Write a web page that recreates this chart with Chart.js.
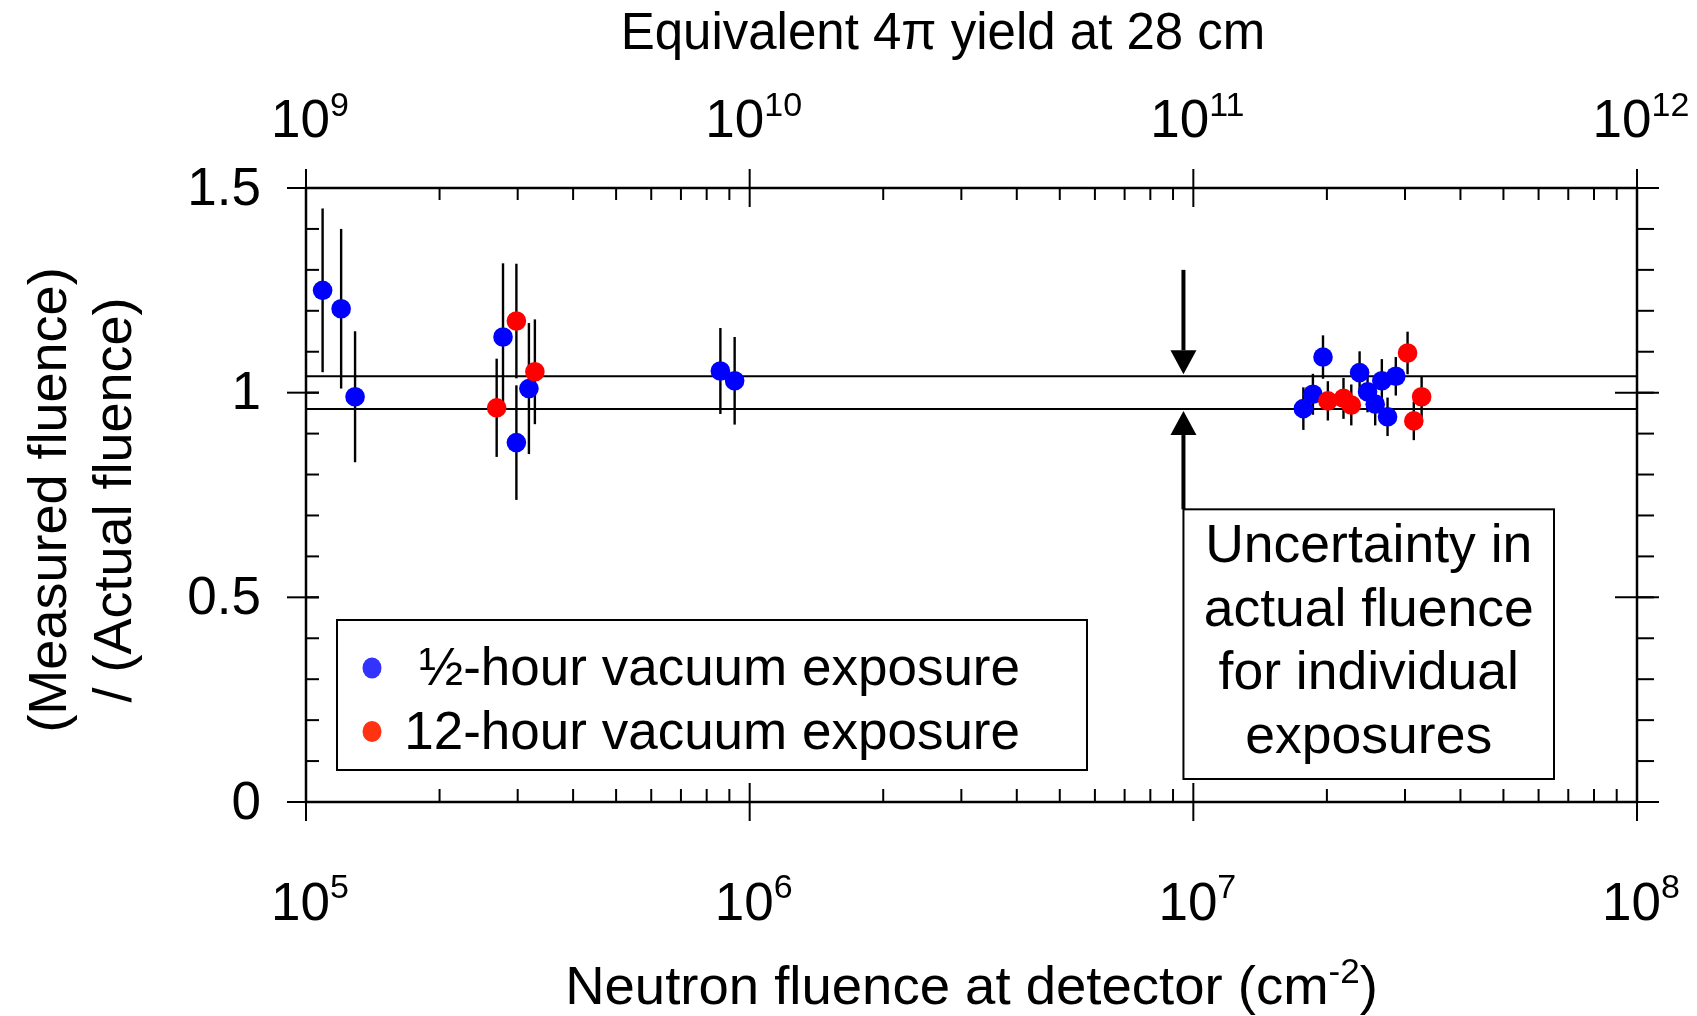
<!DOCTYPE html>
<html>
<head>
<meta charset="utf-8">
<title>Measured / actual fluence</title>
<script src="https://cdn.jsdelivr.net/npm/chart.js@4.4.1/dist/chart.umd.min.js"></script>
<style>
  html, body { margin: 0; padding: 0; background: #fff; }
  canvas { display: block; }
</style>
</head>
<body>
<canvas id="fluenceChart" width="1697" height="1016"></canvas>
<script>
// 1/2-hour vacuum exposures
const halfHourFluence = [1.09e5, 1.20e5, 1.29e5, 2.78e5, 2.98e5, 3.18e5, 8.59e5, 9.25e5,
                         1.77e7, 1.86e7, 1.96e7, 2.37e7, 2.47e7, 2.57e7, 2.66e7, 2.74e7, 2.86e7];
const halfHourRatio   = [1.25, 1.205, 0.99, 1.136, 0.878, 1.01, 1.053, 1.029,
                         0.961, 0.996, 1.087, 1.049, 1.002, 0.972, 1.029, 0.941, 1.040];
const halfHourErr     = [0.20, 0.195, 0.16, 0.18, 0.14, 0.16, 0.105, 0.107,
                         0.052, 0.05, 0.053, 0.052, 0.05, 0.052, 0.053, 0.047, 0.047];

// 12-hour vacuum exposures
const twelveHourFluence = [2.69e5, 2.98e5, 3.28e5, 2.01e7, 2.18e7, 2.27e7, 3.04e7, 3.14e7, 3.27e7];
const twelveHourRatio   = [0.963, 1.175, 1.051, 0.980, 0.986, 0.970, 1.097, 0.931, 0.990];
const twelveHourErr     = [0.12, 0.14, 0.128, 0.048, 0.05, 0.05, 0.052, 0.047, 0.05];

// uncertainty band in the actual fluence
const bandLimits = [1.04, 0.96];

// axis ticks
const yMajorTicks = [0, 0.5, 1, 1.5];
const yTickLabels = ['0', '0.5', '1', '1.5'];
const bottomDecades = [1e5, 1e6, 1e7, 1e8];
const bottomExps = ['5', '6', '7', '8'];
const topDecades = [1e9, 1e10, 1e11, 1e12];
const topExps = ['9', '10', '11', '12'];

// arrows pointing at the band
const arrowFluence = 9.5e6;
const arrowTails = [1.30, 0.715];

const FONT = 'Arial, "Liberation Sans", Helvetica, sans-serif';

function toPoints(xs, ys) {
    return xs.map((x, i) => ({ x: x, y: ys[i] }));
}

function drawPower(ctx, x, baseline, base, exp, size, supSize, raise) {
    ctx.font = size + 'px ' + FONT;
    const wb = ctx.measureText(base).width;
    ctx.font = supSize + 'px ' + FONT;
    const we = ctx.measureText(exp).width;
    const left = x - (wb + we) / 2 + 4;
    ctx.textAlign = 'left';
    ctx.textBaseline = 'alphabetic';
    ctx.font = size + 'px ' + FONT;
    ctx.fillText(base, left, baseline);
    ctx.font = supSize + 'px ' + FONT;
    ctx.fillText(exp, left + wb, baseline - raise);
}

function line(ctx, x1, y1, x2, y2) {
    ctx.beginPath();
    ctx.moveTo(x1, y1);
    ctx.lineTo(x2, y2);
    ctx.stroke();
}

function logMinors(min, max) {
    const out = [];
    for (let d = min; d < max; d *= 10) {
        for (let m = 2; m <= 9; m++) out.push(d * m);
    }
    return out;
}

// error bars go behind the markers
const errorBarPlugin = {
    id: 'errorBars',
    beforeDatasetsDraw(chart) {
        const ctx = chart.ctx;
        const xs = chart.scales.x, ys = chart.scales.y;
        ctx.save();
        ctx.strokeStyle = '#000';
        ctx.lineWidth = 2.4;
        chart.data.datasets.forEach(ds => {
            if (!ds.errors) return;
            ds.data.forEach((p, i) => {
                const px = xs.getPixelForValue(p.x);
                line(ctx, px, ys.getPixelForValue(p.y + ds.errors[i]), px, ys.getPixelForValue(p.y - ds.errors[i]));
            });
        });
        ctx.restore();
    }
};

// frame, ticks, labels, arrows, annotation and legend
const framePlugin = {
    id: 'frame',
    afterDraw(chart) {
        const ctx = chart.ctx;
        const area = chart.chartArea;
        const xs = chart.scales.x, xt = chart.scales.x2, ys = chart.scales.y;
        const L = area.left, R = area.right, T = area.top, B = area.bottom;
        ctx.save();
        ctx.strokeStyle = '#000';
        ctx.fillStyle = '#000';

        ctx.lineWidth = 2.5;
        ctx.strokeRect(L, T, R - L, B - T);

        ctx.lineWidth = 2;
        // y minor ticks every 0.1, pointing right on both sides
        for (let k = 0; k <= 15; k++) {
            const py = ys.getPixelForValue(k / 10);
            line(ctx, L, py, L + 13, py);
            line(ctx, R, py, R + 17, py);
        }
        yMajorTicks.forEach(v => {
            const py = ys.getPixelForValue(v);
            line(ctx, L - 19, py, L + 13, py);
            line(ctx, R - 22, py, R + 22, py);
        });
        // x minor ticks, inward
        logMinors(1e5, 1e8).forEach(v => {
            const px = xs.getPixelForValue(v);
            line(ctx, px, B, px, B - 13);
        });
        logMinors(1e9, 1e12).forEach(v => {
            const px = xt.getPixelForValue(v);
            line(ctx, px, T, px, T + 12);
        });
        bottomDecades.forEach(v => {
            const px = xs.getPixelForValue(v);
            line(ctx, px, B - 19, px, B + 19);
        });
        topDecades.forEach(v => {
            const px = xt.getPixelForValue(v);
            line(ctx, px, T - 19, px, T + 19);
        });

        // tick labels
        ctx.font = '53px ' + FONT;
        ctx.textAlign = 'right';
        ctx.textBaseline = 'middle';
        yMajorTicks.forEach((v, i) => {
            ctx.fillText(yTickLabels[i], 261, ys.getPixelForValue(v) + 2);
        });
        bottomDecades.forEach((v, i) => {
            drawPower(ctx, xs.getPixelForValue(v), 920, '10', bottomExps[i], 53, 34, 22);
        });
        topDecades.forEach((v, i) => {
            drawPower(ctx, xt.getPixelForValue(v), 137, '10', topExps[i], 53, 34, 21);
        });

        // axis titles
        ctx.font = '51px ' + FONT;
        ctx.textAlign = 'center';
        ctx.textBaseline = 'alphabetic';
        ctx.fillText('Equivalent 4\u03c0 yield at 28 cm', 943, 49);

        const tMain = 'Neutron fluence at detector (cm';
        ctx.font = '54.5px ' + FONT;
        const w1 = ctx.measureText(tMain).width;
        const w3 = ctx.measureText(')').width;
        ctx.font = '35px ' + FONT;
        const w2 = ctx.measureText('-2').width;
        let tx = (L + R) / 2 - (w1 + w2 + w3) / 2;
        ctx.textAlign = 'left';
        ctx.font = '54.5px ' + FONT;
        ctx.fillText(tMain, tx, 1004);
        ctx.font = '35px ' + FONT;
        ctx.fillText('-2', tx + w1, 983);
        ctx.font = '54.5px ' + FONT;
        ctx.fillText(')', tx + w1 + w2, 1004);

        ctx.save();
        ctx.font = '54px ' + FONT;
        ctx.textAlign = 'center';
        ctx.textBaseline = 'middle';
        ctx.translate(51, 500);
        ctx.rotate(-Math.PI / 2);
        ctx.fillText('(Measured fluence)', 0, 0);
        ctx.translate(0, 65);
        ctx.fillText('/ (Actual fluence)', 0, 0);
        ctx.restore();

        // arrows onto the band
        const ax = xs.getPixelForValue(arrowFluence);
        const drawArrow = (fromV, toV) => {
            const y0 = ys.getPixelForValue(fromV);
            const y1 = ys.getPixelForValue(toV);
            const dir = y1 > y0 ? 1 : -1;
            const headBase = y1 - dir * 26;
            ctx.lineWidth = 4;
            line(ctx, ax, y0, ax, headBase);
            ctx.beginPath();
            ctx.moveTo(ax - 13, headBase);
            ctx.lineTo(ax + 13, headBase);
            ctx.lineTo(ax, y1 - dir * 2);
            ctx.closePath();
            ctx.fill();
        };
        drawArrow(arrowTails[0], bandLimits[0]);
        drawArrow(arrowTails[1], bandLimits[1]);

        // annotation box hanging from the lower arrow
        const boxTop = ys.getPixelForValue(arrowTails[1]);
        ctx.lineWidth = 2;
        ctx.strokeRect(ax, boxTop, 1554 - ax, 779 - boxTop);
        ctx.font = '53.5px ' + FONT;
        ctx.textAlign = 'center';
        ctx.textBaseline = 'alphabetic';
        const cx = (ax + 1554) / 2;
        ['Uncertainty in', 'actual fluence', 'for individual', 'exposures'].forEach((s, i) => {
            ctx.fillText(s, cx, 562 + i * 63.5);
        });

        // legend
        ctx.strokeRect(337, 620, 750, 150);
        const legendColors = ['#3333ff', '#ff3311'];
        chart.data.datasets.filter(d => d.errors).forEach((ds, i) => {
            const ly = 668 + i * 63.5;
            ctx.fillStyle = legendColors[i];
            ctx.beginPath();
            ctx.ellipse(372, ly, 9.5, 10.5, 0, 0, Math.PI * 2);
            ctx.fill();
            ctx.fillStyle = '#000';
            ctx.font = '53px ' + FONT;
            ctx.textAlign = 'right';
            ctx.fillText(ds.label, 1020, ly + 17);
        });
        ctx.restore();
    }
};

const ctx = document.getElementById('fluenceChart').getContext('2d');
const fluenceChart = new Chart(ctx, {
    type: 'scatter',
    data: {
        datasets: [{
            label: '\u00bd-hour vacuum exposure',
            data: toPoints(halfHourFluence, halfHourRatio),
            errors: halfHourErr,
            backgroundColor: '#0000ff',
            borderWidth: 0,
            pointRadius: 9.8,
            order: 1
        }, {
            label: '12-hour vacuum exposure',
            data: toPoints(twelveHourFluence, twelveHourRatio),
            errors: twelveHourErr,
            backgroundColor: '#ff0000',
            borderWidth: 0,
            pointRadius: 9.8,
            order: 0
        }, {
            type: 'line',
            data: [{ x: 1e5, y: bandLimits[0] }, { x: 1e8, y: bandLimits[0] }],
            borderColor: '#000',
            borderWidth: 2,
            pointRadius: 0,
            order: 5
        }, {
            type: 'line',
            data: [{ x: 1e5, y: bandLimits[1] }, { x: 1e8, y: bandLimits[1] }],
            borderColor: '#000',
            borderWidth: 2,
            pointRadius: 0,
            order: 5
        }]
    },
    options: {
        responsive: false,
        animation: false,
        devicePixelRatio: 1,
        layout: { padding: { left: 306, right: 60, top: 188, bottom: 214 } },
        plugins: {
            legend: { display: false },
            tooltip: { enabled: false }
        },
        scales: {
            x: { type: 'logarithmic', min: 1e5, max: 1e8, display: false },
            x2: { type: 'logarithmic', position: 'top', min: 1e9, max: 1e12, display: false },
            y: { type: 'linear', min: 0, max: 1.5, display: false }
        }
    },
    plugins: [errorBarPlugin, framePlugin]
});
</script>
</body>
</html>
